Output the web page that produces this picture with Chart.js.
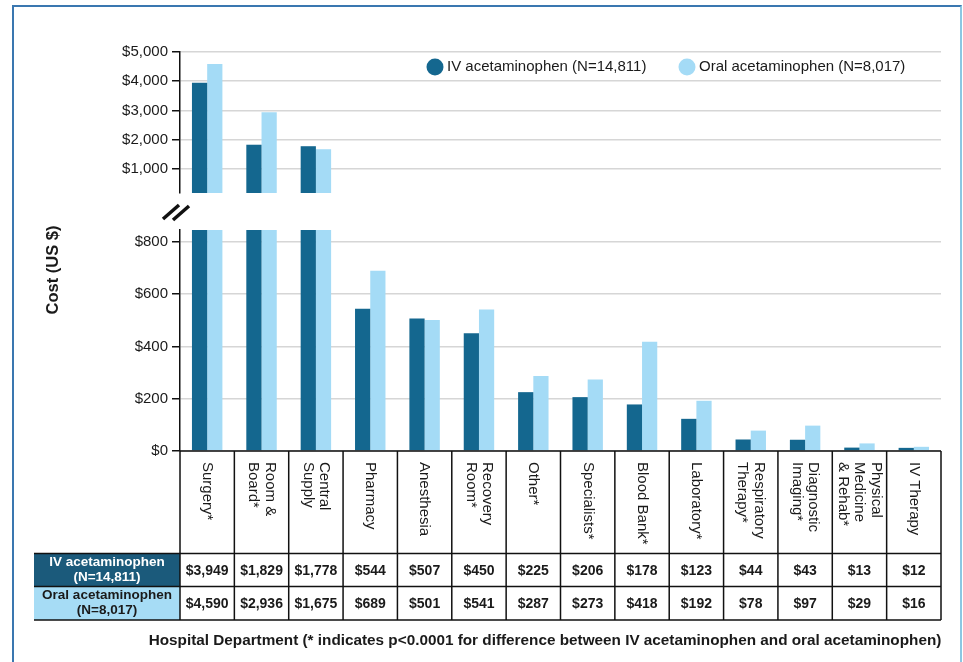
<!DOCTYPE html>
<html>
<head>
<meta charset="utf-8">
<script src="https://cdn.jsdelivr.net/npm/chart.js@4/dist/chart.umd.min.js"></script>
<style>
  body { margin: 0; background: #fff; }
  #wrap { position: relative; width: 963px; height: 662px; overflow: hidden; }
  #frame { position: absolute; left: 12px; top: 5px; width: 946px; height: 700px;
           border: 2px solid #3a77b0; border-right-color: #8cc7e2; }
  canvas { position: absolute; left: 0; }
  #upper { top: 0; }
  #lower { top: 200px; }
</style>
</head>
<body>
<div id="wrap">
  <div id="frame"></div>
  <canvas id="upper" width="963" height="206"></canvas>
  <canvas id="lower" width="963" height="462"></canvas>
</div>
<script>
const categories = [['Surgery*'], ['Room &', 'Board*'], ['Central', 'Supply'], ['Pharmacy'], ['Anesthesia'],
    ['Recovery', 'Room*'], ['Other*'], ['Specialists*'], ['Blood Bank*'], ['Laboratory*'],
    ['Respiratory', 'Therapy*'], ['Diagnostic', 'Imaging*'], ['Physical', 'Medicine', '& Rehab*'], ['IV Therapy']];
const ivCost = [3949, 1829, 1778, 544, 507, 450, 225, 206, 178, 123, 44, 43, 13, 12];
const oralCost = [4590, 2936, 1675, 689, 501, 541, 287, 273, 418, 192, 78, 97, 29, 16];
const seriesNames = ['IV acetaminophen (N=14,811)', 'Oral acetaminophen (N=8,017)'];
const rowHeads = [['IV acetaminophen', '(N=14,811)'], ['Oral acetaminophen', '(N=8,017)']];
const upperTicks = [1000, 2000, 3000, 4000, 5000];
const lowerTicks = [0, 200, 400, 600, 800];
const brokenCount = 3; // first three departments go above the axis break

const DARK = '#14678f';
const LIGHT = '#a4dbf6';
const FONT = '"Liberation Sans", Arial, sans-serif';
const labels = categories.map(c => c.join(' '));
const money = v => '$' + v.toLocaleString('en-US');

Chart.defaults.font.family = FONT;
Chart.defaults.color = '#1a1a1a';

function yScale(min, max, ticks) {
    return {
        min: min, max: max,
        afterBuildTicks: s => { s.ticks = ticks.map(v => ({ value: v })); },
        afterFit: s => { s.width = 180; },
        ticks: { font: { size: 15 }, color: '#1a1a1a', padding: 4, callback: v => money(v) },
        grid: { color: '#d6d6d6', lineWidth: 1.5, tickColor: '#111', tickLength: 8 },
        border: { color: '#111', width: 1.5 }
    };
}

function barSets(iv, oral) {
    return [
        { label: seriesNames[0], data: iv, backgroundColor: DARK, categoryPercentage: 0.56, barPercentage: 1 },
        { label: seriesNames[1], data: oral, backgroundColor: LIGHT, categoryPercentage: 0.56, barPercentage: 1 }
    ];
}

const legendPlugin = {
    id: 'legendDots',
    afterDraw(chart) {
        const ctx = chart.ctx;
        const items = [[435, DARK], [687, LIGHT]];
        ctx.save();
        ctx.font = '15px ' + FONT;
        ctx.textBaseline = 'middle';
        ctx.textAlign = 'left';
        items.forEach((it, i) => {
            ctx.fillStyle = it[1];
            ctx.beginPath();
            ctx.arc(it[0], 67, 8.5, 0, Math.PI * 2);
            ctx.fill();
            ctx.fillStyle = '#1a1a1a';
            ctx.fillText(seriesNames[i], it[0] + 12, 67);
        });
        ctx.restore();
    }
};

new Chart(document.getElementById('upper'), {
    type: 'bar',
    data: {
        labels: labels,
        datasets: barSets(ivCost.map((v, i) => i < brokenCount ? v : null),
                          oralCost.map((v, i) => i < brokenCount ? v : null))
    },
    options: {
        responsive: false,
        animation: false,
        layout: { padding: { top: 52, bottom: 2, right: 22, left: 0 } },
        plugins: { legend: { display: false }, tooltip: { enabled: false } },
        scales: {
            x: { display: false },
            y: yScale(178, 5000, upperTicks)
        }
    },
    plugins: [legendPlugin]
});

const tablePlugin = {
    id: 'costTable',
    afterDraw(chart) {
        const ctx = chart.ctx;
        const xs = chart.scales.x;
        const area = chart.chartArea;
        const colW = (area.right - area.left) / categories.length;
        const top = area.bottom;
        const r1 = top + 102.5, r2 = r1 + 33, r3 = r2 + 33.5;
        const headL = 34;
        ctx.save();

        // row header fills
        ctx.fillStyle = '#1b5a7b';
        ctx.fillRect(headL, r1, area.left - headL, r2 - r1);
        ctx.fillStyle = '#a6dcf5';
        ctx.fillRect(headL, r2, area.left - headL, r3 - r2);

        // grid of the table
        ctx.strokeStyle = '#111';
        ctx.lineWidth = 1.5;
        ctx.beginPath();
        ctx.moveTo(area.left, top); ctx.lineTo(area.right, top);
        [r1, r2, r3].forEach(y => { ctx.moveTo(headL, y); ctx.lineTo(area.right, y); });
        for (let i = 0; i <= categories.length; i++) {
            const x = area.left + i * colW;
            ctx.moveTo(x, top); ctx.lineTo(x, r3);
        }
        ctx.stroke();

        // department names, rotated clockwise
        ctx.fillStyle = '#1a1a1a';
        ctx.font = '15px ' + FONT;
        ctx.textAlign = 'left';
        ctx.textBaseline = 'middle';
        categories.forEach((lines, i) => {
            const cx = xs.getPixelForValue(i);
            const lh = 16.5;
            lines.forEach((ln, j) => {
                const x = cx + ((lines.length - 1) / 2 - j) * lh;
                ctx.save();
                ctx.translate(x, top + 11);
                ctx.rotate(Math.PI / 2);
                ctx.fillText(ln, 0, 0);
                ctx.restore();
            });
        });

        // values
        ctx.font = 'bold 14px ' + FONT;
        ctx.textAlign = 'center';
        [ivCost, oralCost].forEach((row, k) => {
            const y = k === 0 ? (r1 + r2) / 2 : (r2 + r3) / 2;
            row.forEach((v, i) => ctx.fillText(money(v), xs.getPixelForValue(i), y + 1));
        });

        // row headers
        ctx.font = 'bold 13.5px ' + FONT;
        rowHeads.forEach((h, k) => {
            const y0 = k === 0 ? r1 : r2;
            ctx.fillStyle = k === 0 ? '#ffffff' : '#1a1a1a';
            ctx.fillText(h[0], (headL + area.left) / 2, y0 + 9);
            ctx.fillText(h[1], (headL + area.left) / 2, y0 + 24);
        });

        // axis titles
        ctx.fillStyle = '#1a1a1a';
        ctx.font = 'bold 15.3px ' + FONT;
        ctx.fillText('Hospital Department (* indicates p<0.0001 for difference between IV acetaminophen and oral acetaminophen)', 545, 441);
        ctx.font = 'bold 16.5px ' + FONT;
        ctx.save();
        ctx.translate(53, 70);
        ctx.rotate(-Math.PI / 2);
        ctx.fillText('Cost (US $)', 0, 0);
        ctx.restore();

        // axis break marks
        ctx.lineWidth = 3.5;
        ctx.beginPath();
        ctx.moveTo(163, 19); ctx.lineTo(179, 5);
        ctx.moveTo(173, 20); ctx.lineTo(189, 6);
        ctx.stroke();
        ctx.restore();
    }
};

new Chart(document.getElementById('lower'), {
    type: 'bar',
    data: { labels: labels, datasets: barSets(ivCost, oralCost) },
    options: {
        responsive: false,
        animation: false,
        layout: { padding: { top: 30, bottom: 211, right: 22, left: 0 } },
        plugins: { legend: { display: false }, tooltip: { enabled: false } },
        scales: {
            x: { display: false },
            y: yScale(0, 845, lowerTicks)
        }
    },
    plugins: [tablePlugin]
});
</script>
</body>
</html>
